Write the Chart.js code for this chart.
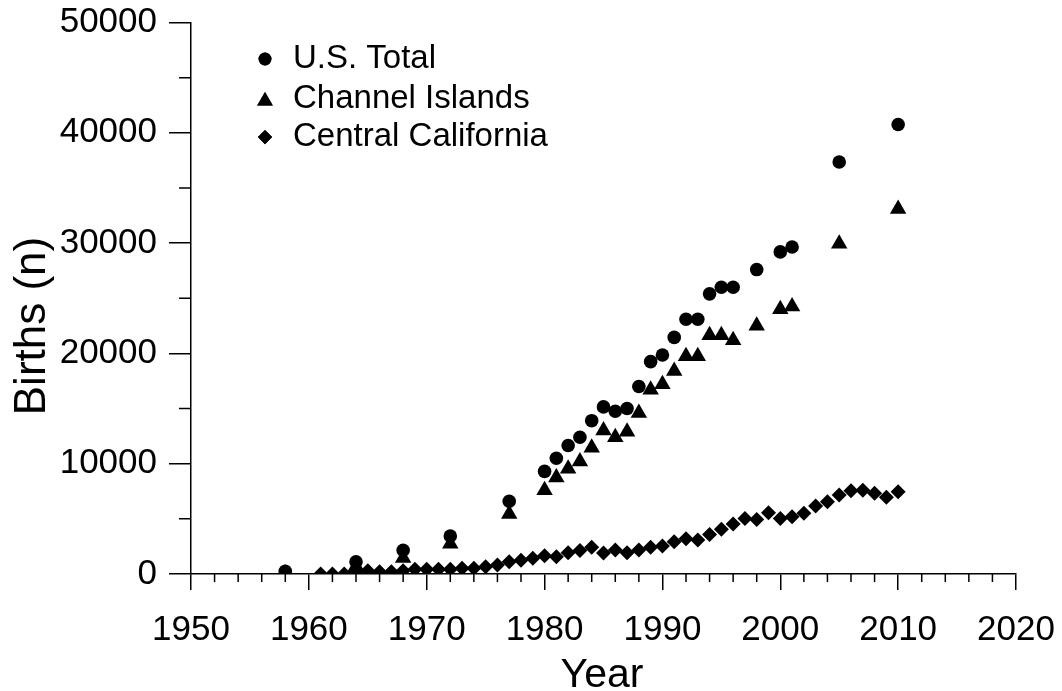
<!DOCTYPE html>
<html>
<head>
<meta charset="utf-8">
<script src="https://cdn.jsdelivr.net/npm/chart.js@4.4.1/dist/chart.umd.min.js"></script>
<style>
  html, body { margin: 0; padding: 0; background: #fff; }
  #wrap { width: 1062px; height: 691px; }
</style>
</head>
<body>
<div id="wrap"><canvas id="c" width="1062" height="691"></canvas></div>
<script>
// ---- data ----
const usYears = [1958,1964,1968,1972,1977,1980,1981,1982,1983,1984,1985,1986,1987,1988,1989,1990,1991,1992,1993,1994,1995,1996,1998,2000,2001,2005,2010];
const usTotal = [250,1100,2150,3450,6600,9300,10500,11650,12400,13900,15150,14750,15000,17000,19250,19850,21450,23100,23100,25400,26000,26000,27600,29200,29650,37350,40750];
const ciYears = usYears;
const channelIslands = [50,700,1450,2750,5450,7600,8750,9550,10200,11450,13000,12400,12900,14600,16700,17200,18400,19750,19750,21650,21650,21200,22500,24000,24250,29950,33100];
const ccYears = [1961,1962,1963,1964,1965,1966,1967,1968,1969,1970,1971,1972,1973,1974,1975,1976,1977,1978,1979,1980,1981,1982,1983,1984,1985,1986,1987,1988,1989,1990,1991,1992,1993,1994,1995,1996,1997,1998,1999,2000,2001,2002,2003,2004,2005,2006,2007,2008,2009,2010];
const centralCalifornia = [0,0,0,200,300,200,200,300,420,420,420,420,510,510,660,810,1100,1250,1420,1650,1570,1930,2120,2420,1900,2170,1930,2170,2420,2540,2930,3200,3080,3590,4050,4530,5040,4950,5550,5040,5190,5500,6160,6550,7160,7550,7600,7310,6950,7460];
const xTickStep = 10;
const yTickStep = 10000;
const seriesNames = ['U.S. Total', 'Channel Islands', 'Central California'];
const xTitle = 'Year';
const yTitle = 'Births (n)';

const FONT = '"Liberation Sans", Arial, sans-serif';
const pts = (xs, ys) => xs.map((x, i) => ({x: x, y: ys[i]}));

const styles = [
  {pointStyle: 'circle', radius: 6.8},
  {pointStyle: 'triangle', radius: 9.5},
  {pointStyle: 'rectRot', radius: 7.5}
];

const extras = {
  id: 'extras',
  afterDraw(chart) {
    const ctx = chart.ctx, xs = chart.scales.x, ys = chart.scales.y;
    ctx.save();
    // minor ticks
    ctx.strokeStyle = '#000';
    ctx.lineWidth = 1.5;
    ctx.beginPath();
    for (let yr = xs.min; yr <= xs.max; yr += 2) {
      if (yr % xTickStep === 0) continue;
      const px = xs.getPixelForValue(yr);
      ctx.moveTo(px, ys.bottom);
      ctx.lineTo(px, ys.bottom + 8);
    }
    for (let v = ys.min + yTickStep / 2; v < ys.max; v += yTickStep) {
      const py = ys.getPixelForValue(v);
      ctx.moveTo(xs.left - 12, py);
      ctx.lineTo(xs.left, py);
    }
    ctx.stroke();
    // axis titles
    ctx.fillStyle = '#000';
    ctx.textAlign = 'center';
    ctx.textBaseline = 'alphabetic';
    ctx.font = '41px ' + FONT;
    ctx.fillText(xTitle, 602, 687);
    ctx.save();
    ctx.translate(45, 326);
    ctx.rotate(-Math.PI / 2);
    ctx.font = '44px ' + FONT;
    ctx.fillText(yTitle, 0, 0);
    ctx.restore();
    // legend
    const rows = [59, 99, 137];
    ctx.font = '33px ' + FONT;
    ctx.textBaseline = 'middle';
    ctx.textAlign = 'left';
    seriesNames.forEach((name, i) => {
      const st = styles[i];
      Chart.helpers.drawPoint(ctx, {pointStyle: st.pointStyle, radius: st.radius * 0.95, rotation: 0, borderWidth: 0}, 265, rows[i] + (i === 1 ? 2 : 0));
      ctx.fill();
      ctx.fillText(name, 293, rows[i]);
    });
    ctx.restore();
  }
};

const mk = (label, data, i) => ({
  label: label,
  data: data,
  pointStyle: styles[i].pointStyle,
  pointRadius: styles[i].radius,
  pointHoverRadius: styles[i].radius,
  pointBackgroundColor: '#000',
  pointBorderColor: '#000',
  pointBorderWidth: 0,
  showLine: false
});

new Chart(document.getElementById('c'), {
  type: 'scatter',
  data: {
    datasets: [
      mk(seriesNames[0], pts(usYears, usTotal), 0),
      mk(seriesNames[1], pts(ciYears, channelIslands), 1),
      mk(seriesNames[2], pts(ccYears, centralCalifornia), 2)
    ]
  },
  options: {
    responsive: false,
    animation: false,
    events: [],
    layout: { padding: { top: 12, right: 46, left: 0, bottom: 0 } },
    plugins: { legend: { display: false }, tooltip: { enabled: false } },
    scales: {
      x: {
        type: 'linear', min: 1950, max: 2020,
        ticks: { stepSize: xTickStep, color: '#000', font: { family: FONT, size: 35, lineHeight: 1.95 }, padding: 6, maxRotation: 0, callback: v => String(v) },
        grid: { drawOnChartArea: false, drawTicks: true, tickLength: 16, color: '#000', lineWidth: 1.5 },
        border: { display: true, color: '#000', width: 1.5 },
        title: { display: false },
        afterFit(s) { s.height = 117; }
      },
      y: {
        type: 'linear', min: 0, max: 50000,
        ticks: { stepSize: yTickStep, color: '#000', font: { family: FONT, size: 35, lineHeight: 0.6 }, padding: 12, callback: v => String(v) },
        grid: { drawOnChartArea: false, drawTicks: true, tickLength: 22, color: '#000', lineWidth: 1.5 },
        border: { display: true, color: '#000', width: 1.5 },
        title: { display: false },
        afterFit(s) { s.width = 191; }
      }
    }
  },
  plugins: [extras]
});
</script>
</body>
</html>
